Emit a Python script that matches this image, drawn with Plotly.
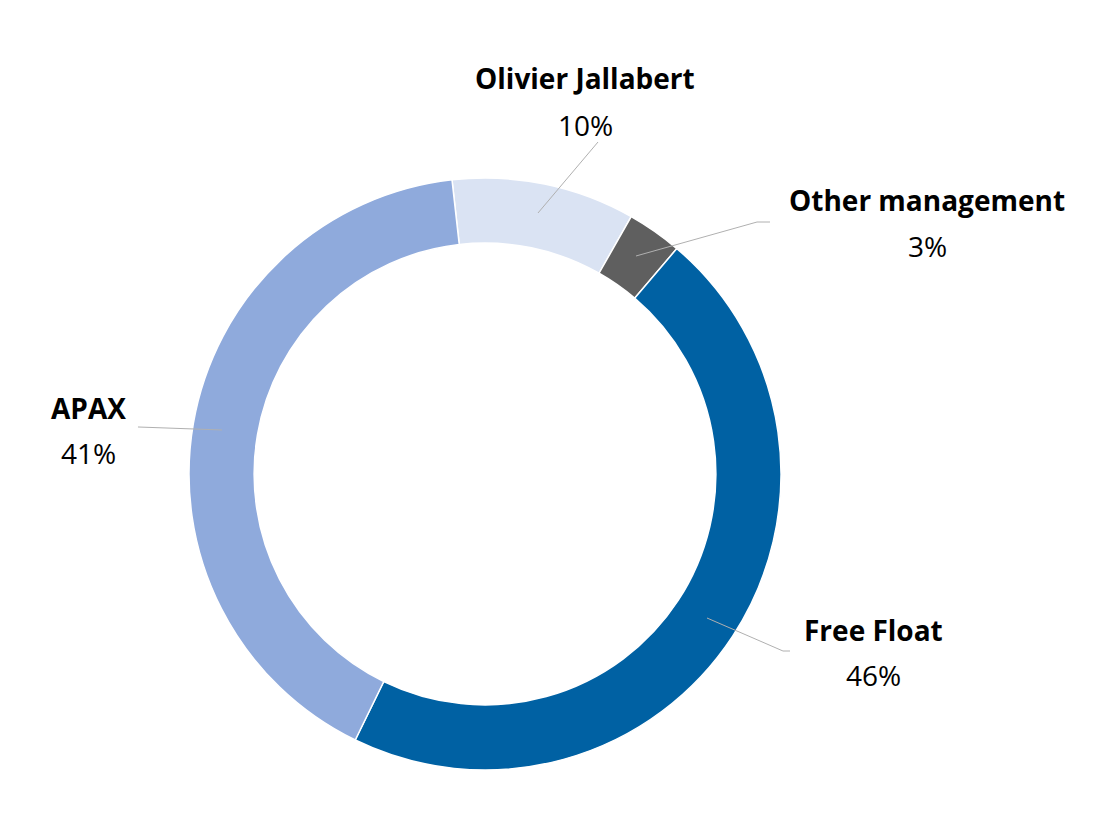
import plotly.graph_objects as go

labels = ["Olivier Jallabert", "Other management", "Free Float", "APAX"]
values = [10, 3, 46, 41]
colors = ["#dae3f3", "#5f5f5f", "#0061a3", "#8faadc"]

W, H = 1110, 813
OFF = 8  # page offset compensation


def px(x):
    return (x - OFF) / W


def py(y):
    return 1 - (y - OFF) / H


fig = go.Figure(go.Pie(
    labels=labels, values=values, sort=False, direction="clockwise",
    rotation=-6.4, hole=0.78, textinfo="none", hoverinfo="label+percent",
    marker=dict(colors=colors, line=dict(color="white", width=1.5)),
    domain=dict(x=[px(188), px(782)], y=[py(770), py(178)]),
    showlegend=False,
))

# label positions in pixels: name centre, percent centre, leader line points
label_pos = {
    "Olivier Jallabert": ((585, 78), (585, 125), [(538, 213), (598, 142)]),
    "Other management": ((927, 200), (927, 246), [(636, 256), (757, 222), (770, 222)]),
    "APAX": ((88, 408), (88, 453), [(222, 430), (138, 427)]),
    "Free Float": ((873, 630), (873, 675), [(707, 618), (783, 651), (790, 651)]),
}

total = sum(values)
for lab, val in zip(labels, values):
    (nx, ny), (tx, ty), pts = label_pos[lab]
    fig.add_annotation(x=px(nx), y=py(ny), xref="paper", yref="paper",
                       xanchor="center", yanchor="middle",
                       text="<b>%s</b>" % lab, showarrow=False,
                       font=dict(size=28, color="black"))
    fig.add_annotation(x=px(tx), y=py(ty), xref="paper", yref="paper",
                       xanchor="center", yanchor="middle",
                       text="%d%%" % round(100 * val / total), showarrow=False,
                       font=dict(size=28, color="black"))
    path = "M " + " L ".join("%f,%f" % (px(x), py(y)) for x, y in pts)
    fig.add_shape(type="path", path=path, xref="paper", yref="paper",
                  line=dict(color="#b0b0b0", width=1))

fig.update_layout(width=W, height=H, margin=dict(l=0, r=0, t=0, b=0),
                  paper_bgcolor="white", plot_bgcolor="white",
                  font=dict(family="Open Sans, Liberation Sans, sans-serif"))

fig.write_html("out.html")
